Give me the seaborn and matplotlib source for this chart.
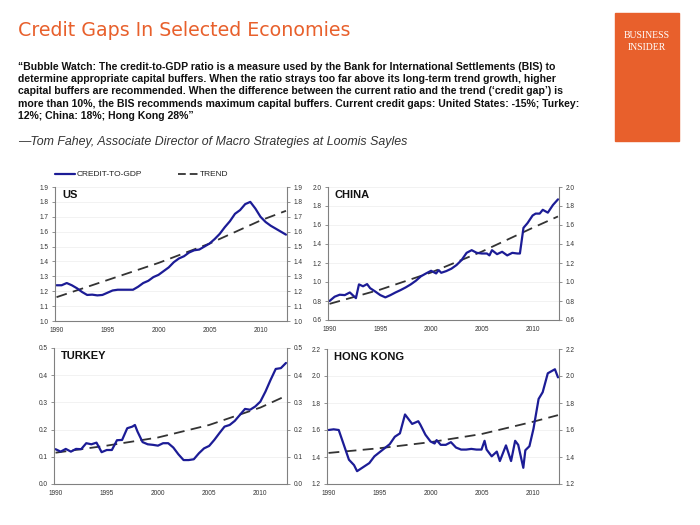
import numpy as np
import pandas as pd
import matplotlib
matplotlib.use('Agg')
import matplotlib.pyplot as plt
from matplotlib.lines import Line2D
from matplotlib.patches import Rectangle
from matplotlib.ticker import MultipleLocator, FormatStrFormatter
import seaborn as sns

sns.set_style('white')
plt.rcParams['font.family'] = ['Liberation Sans', 'DejaVu Sans']

# ---- data ----
US_YEARS = [1990, 1990.5, 1991, 1991.5, 1992, 1992.5, 1993, 1993.5, 1994, 1994.5,
            1995, 1995.5, 1996, 1996.5, 1997, 1997.5, 1998, 1998.5, 1999, 1999.5,
            2000, 2000.5, 2001, 2001.5, 2002, 2002.5, 2003, 2003.5, 2004, 2004.5,
            2005, 2005.5, 2006, 2006.5, 2007, 2007.5, 2008, 2008.5, 2009, 2009.5,
            2010, 2010.5, 2011, 2011.5, 2012, 2012.5]
US_RATIO = [1.24, 1.24, 1.255, 1.24, 1.22, 1.195, 1.175, 1.177, 1.172, 1.175,
            1.19, 1.205, 1.21, 1.21, 1.21, 1.21, 1.23, 1.255, 1.27, 1.295,
            1.31, 1.335, 1.36, 1.395, 1.42, 1.435, 1.46, 1.475, 1.48, 1.50,
            1.52, 1.55, 1.585, 1.63, 1.67, 1.72, 1.745, 1.785, 1.80, 1.755,
            1.70, 1.665, 1.64, 1.62, 1.60, 1.58]

CN_YEARS = [1990, 1990.5, 1991, 1991.5, 1992, 1992.6, 1992.9, 1993.3, 1993.7, 1994,
            1994.5, 1995, 1995.5, 1996, 1996.5, 1997, 1997.5, 1998, 1998.5, 1999,
            1999.5, 2000, 2000.5, 2000.75, 2001, 2001.5, 2002, 2002.5, 2003, 2003.5,
            2004, 2004.5, 2005, 2005.5, 2005.75, 2006, 2006.5, 2007, 2007.5, 2008,
            2008.5, 2008.75, 2009.1, 2009.5, 2010, 2010.3, 2010.7, 2011, 2011.5, 2012,
            2012.5]
CN_RATIO = [0.80, 0.845, 0.866, 0.862, 0.89, 0.83, 0.975, 0.955, 0.978, 0.935,
            0.90, 0.862, 0.838, 0.862, 0.89, 0.915, 0.943, 0.975, 1.013, 1.06,
            1.09, 1.118, 1.09, 1.125, 1.097, 1.115, 1.14, 1.178, 1.23, 1.307,
            1.335, 1.307, 1.30, 1.30, 1.28, 1.335, 1.293, 1.318, 1.28, 1.307,
            1.30, 1.30, 1.57, 1.62, 1.70, 1.72, 1.72, 1.76, 1.73, 1.81,
            1.87]

TR_YEARS = [1990, 1990.5, 1991, 1991.5, 1992, 1992.5, 1993, 1993.5, 1994, 1994.5,
            1995, 1995.5, 1996, 1996.5, 1997, 1997.5, 1997.75, 1998, 1998.5, 1999,
            1999.5, 2000, 2000.5, 2001, 2001.5, 2002, 2002.5, 2003, 2003.5, 2004,
            2004.5, 2005, 2005.5, 2006, 2006.5, 2007, 2007.5, 2008, 2008.5, 2009,
            2009.5, 2010, 2010.5, 2011, 2011.5, 2012, 2012.5]
TR_RATIO = [0.128, 0.119, 0.129, 0.119, 0.129, 0.128, 0.150, 0.146, 0.152, 0.117,
            0.125, 0.125, 0.161, 0.162, 0.205, 0.211, 0.217, 0.193, 0.154, 0.146,
            0.144, 0.141, 0.150, 0.150, 0.134, 0.109, 0.088, 0.088, 0.091, 0.113,
            0.131, 0.140, 0.162, 0.187, 0.211, 0.217, 0.232, 0.254, 0.276, 0.273,
            0.285, 0.303, 0.340, 0.383, 0.423, 0.426, 0.445]

HK_YEARS = [1990, 1990.5, 1991, 1991.5, 1992, 1992.5, 1992.8, 1993.5, 1994, 1994.5,
            1995, 1995.5, 1996, 1996.5, 1997, 1997.5, 1998.2, 1998.8, 1999, 1999.5,
            2000, 2000.4, 2000.6, 2001, 2001.5, 2002, 2002.5, 2003, 2003.5, 2004,
            2004.5, 2005, 2005.3, 2005.5, 2006, 2006.5, 2006.8, 2007.4, 2007.9, 2008.3,
            2008.6, 2009.1, 2009.3, 2009.7, 2010.1, 2010.6, 2011, 2011.5, 2012.2, 2012.5]
HK_RATIO = [1.60, 1.605, 1.60, 1.49, 1.38, 1.34, 1.295, 1.33, 1.355, 1.405,
            1.435, 1.465, 1.495, 1.55, 1.575, 1.715, 1.645, 1.665, 1.64, 1.565,
            1.515, 1.50, 1.525, 1.49, 1.49, 1.51, 1.47, 1.455, 1.455, 1.46,
            1.455, 1.455, 1.52, 1.455, 1.405, 1.44, 1.37, 1.486, 1.37, 1.52,
            1.49, 1.32, 1.45, 1.48, 1.61, 1.83, 1.88, 2.02, 2.05, 1.99]

TREND_YEARS = [1990, 1995, 2000, 2005, 2010, 2012.5]
US_TREND = [1.16, 1.275, 1.39, 1.52, 1.675, 1.74]
CN_TREND = [0.77, 0.92, 1.10, 1.32, 1.57, 1.69]
TR_TREND = [0.115, 0.141, 0.171, 0.217, 0.281, 0.324]
HK_TREND = [1.43, 1.465, 1.51, 1.57, 1.66, 1.71]

PANELS = [
    ('US', US_YEARS, US_RATIO, US_TREND, (1.0, 1.9), 0.1),
    ('CHINA', CN_YEARS, CN_RATIO, CN_TREND, (0.6, 2.0), 0.2),
    ('TURKEY', TR_YEARS, TR_RATIO, TR_TREND, (0.0, 0.5), 0.1),
    ('HONG KONG', HK_YEARS, HK_RATIO, HK_TREND, (1.2, 2.2), 0.2),
]

TITLE = 'Credit Gaps In Selected Economies'
QUOTE = [
    '\u201cBubble Watch: The credit-to-GDP ratio is a measure used by the Bank for International Settlements (BIS) to',
    'determine appropriate capital buffers. When the ratio strays too far above its long-term trend growth, higher',
    'capital buffers are recommended. When the difference between the current ratio and the trend (\u2018credit gap\u2019) is',
    'more than 10%, the BIS recommends maximum capital buffers. Current credit gaps: United States: -15%; Turkey:',
    '12%; China: 18%; Hong Kong 28%\u201d',
]
SOURCE = '\u2014Tom Fahey, Associate Director of Macro Strategies at Loomis Sayles'

BLUE = '#1c1c96'
ORANGE = '#e8602c'
W, H = 700, 525

# axes boxes in pixels: left, top, right, bottom
BOXES = [(55, 187, 287, 321), (328, 187, 559, 320), (54, 348, 287, 484), (327, 349, 559, 484)]

fig = plt.figure(figsize=(7, 5.25), dpi=100)


def px_rect(l, t, r, b):
    return [l / W, 1 - b / H, (r - l) / W, (b - t) / H]


for (name, yrs, vals, trend, ylim, step), box in zip(PANELS, BOXES):
    ax = fig.add_axes(px_rect(*box))
    df = pd.DataFrame({'year': yrs, 'ratio': vals})
    tr = pd.DataFrame({'year': TREND_YEARS, 'trend': trend})
    sns.lineplot(data=tr, x='year', y='trend', ax=ax, color='#333333', lw=1.3,
                 linestyle=(0, (6, 3.5)), estimator=None, sort=False)
    sns.lineplot(data=df, x='year', y='ratio', ax=ax, color=BLUE, lw=1.6,
                 estimator=None, sort=False)
    ax.set_xlim(1989.85, 2012.6)
    ax.set_ylim(*ylim)
    ax.yaxis.set_major_locator(MultipleLocator(step))
    ax.yaxis.set_major_formatter(FormatStrFormatter('%.1f'))
    ax.xaxis.set_major_locator(MultipleLocator(5))
    ax.xaxis.set_minor_locator(MultipleLocator(1))
    ax.set_xlabel('')
    ax.set_ylabel('')
    ax.grid(axis='y', color='#f0f0f0', lw=0.6)
    ax.set_axisbelow(True)
    for s in ['left', 'right', 'bottom']:
        ax.spines[s].set_color('#808080')
        ax.spines[s].set_linewidth(0.8)
    ax.spines['top'].set_visible(False)
    ax.tick_params(axis='both', which='both', direction='out', length=2.5,
                   width=0.6, color='#808080', labelsize=4.7, labelcolor='#333333', pad=2)
    ax.tick_params(axis='y', right=True, labelright=True, left=True)
    ax.tick_params(axis='x', which='minor', length=2)
    ax.text(0.03, 0.94, name, transform=ax.transAxes, fontsize=8, fontweight='bold',
            va='center', ha='left', color='#111111')

# legend drawn on the figure
ly = 1 - 174 / H
fig.add_artist(Line2D([55 / W, 75 / W], [ly, ly], color=BLUE, lw=1.6, transform=fig.transFigure))
fig.text(77 / W, ly, 'CREDIT-TO-GDP', fontsize=6, va='center', color='#222222')
fig.add_artist(Line2D([178 / W, 198 / W], [ly, ly], color='#333333', lw=1.3,
                      linestyle=(0, (4.3, 2.2)), transform=fig.transFigure))
fig.text(200 / W, ly, 'TREND', fontsize=6, va='center', color='#222222')

# header
fig.text(18 / W, 1 - 31 / H, TITLE, fontsize=13.7, color=ORANGE, va='center',
         family=['DejaVu Sans'])
for i, line in enumerate(QUOTE):
    fig.text(18 / W, 1 - (67 + 12.2 * i) / H, line, fontsize=7.55, fontweight='bold',
             va='center', color='#111111')
fig.text(18 / W, 1 - 142 / H, SOURCE, fontsize=8.9, style='italic', va='center', color='#333333')

# Business Insider badge
fig.add_artist(Rectangle((615 / W, 1 - 141 / H), 64 / W, 128 / H, color=ORANGE,
                         transform=fig.transFigure))
fig.text(647 / W, 1 - 35 / H, 'BUSINESS', fontsize=7, color='white', ha='center', va='center',
         family=['Liberation Serif', 'DejaVu Serif'])
fig.text(647 / W, 1 - 47 / H, 'INSIDER', fontsize=7, color='white', ha='center', va='center',
         family=['Liberation Serif', 'DejaVu Serif'])

fig.savefig('out.png', dpi=100)
